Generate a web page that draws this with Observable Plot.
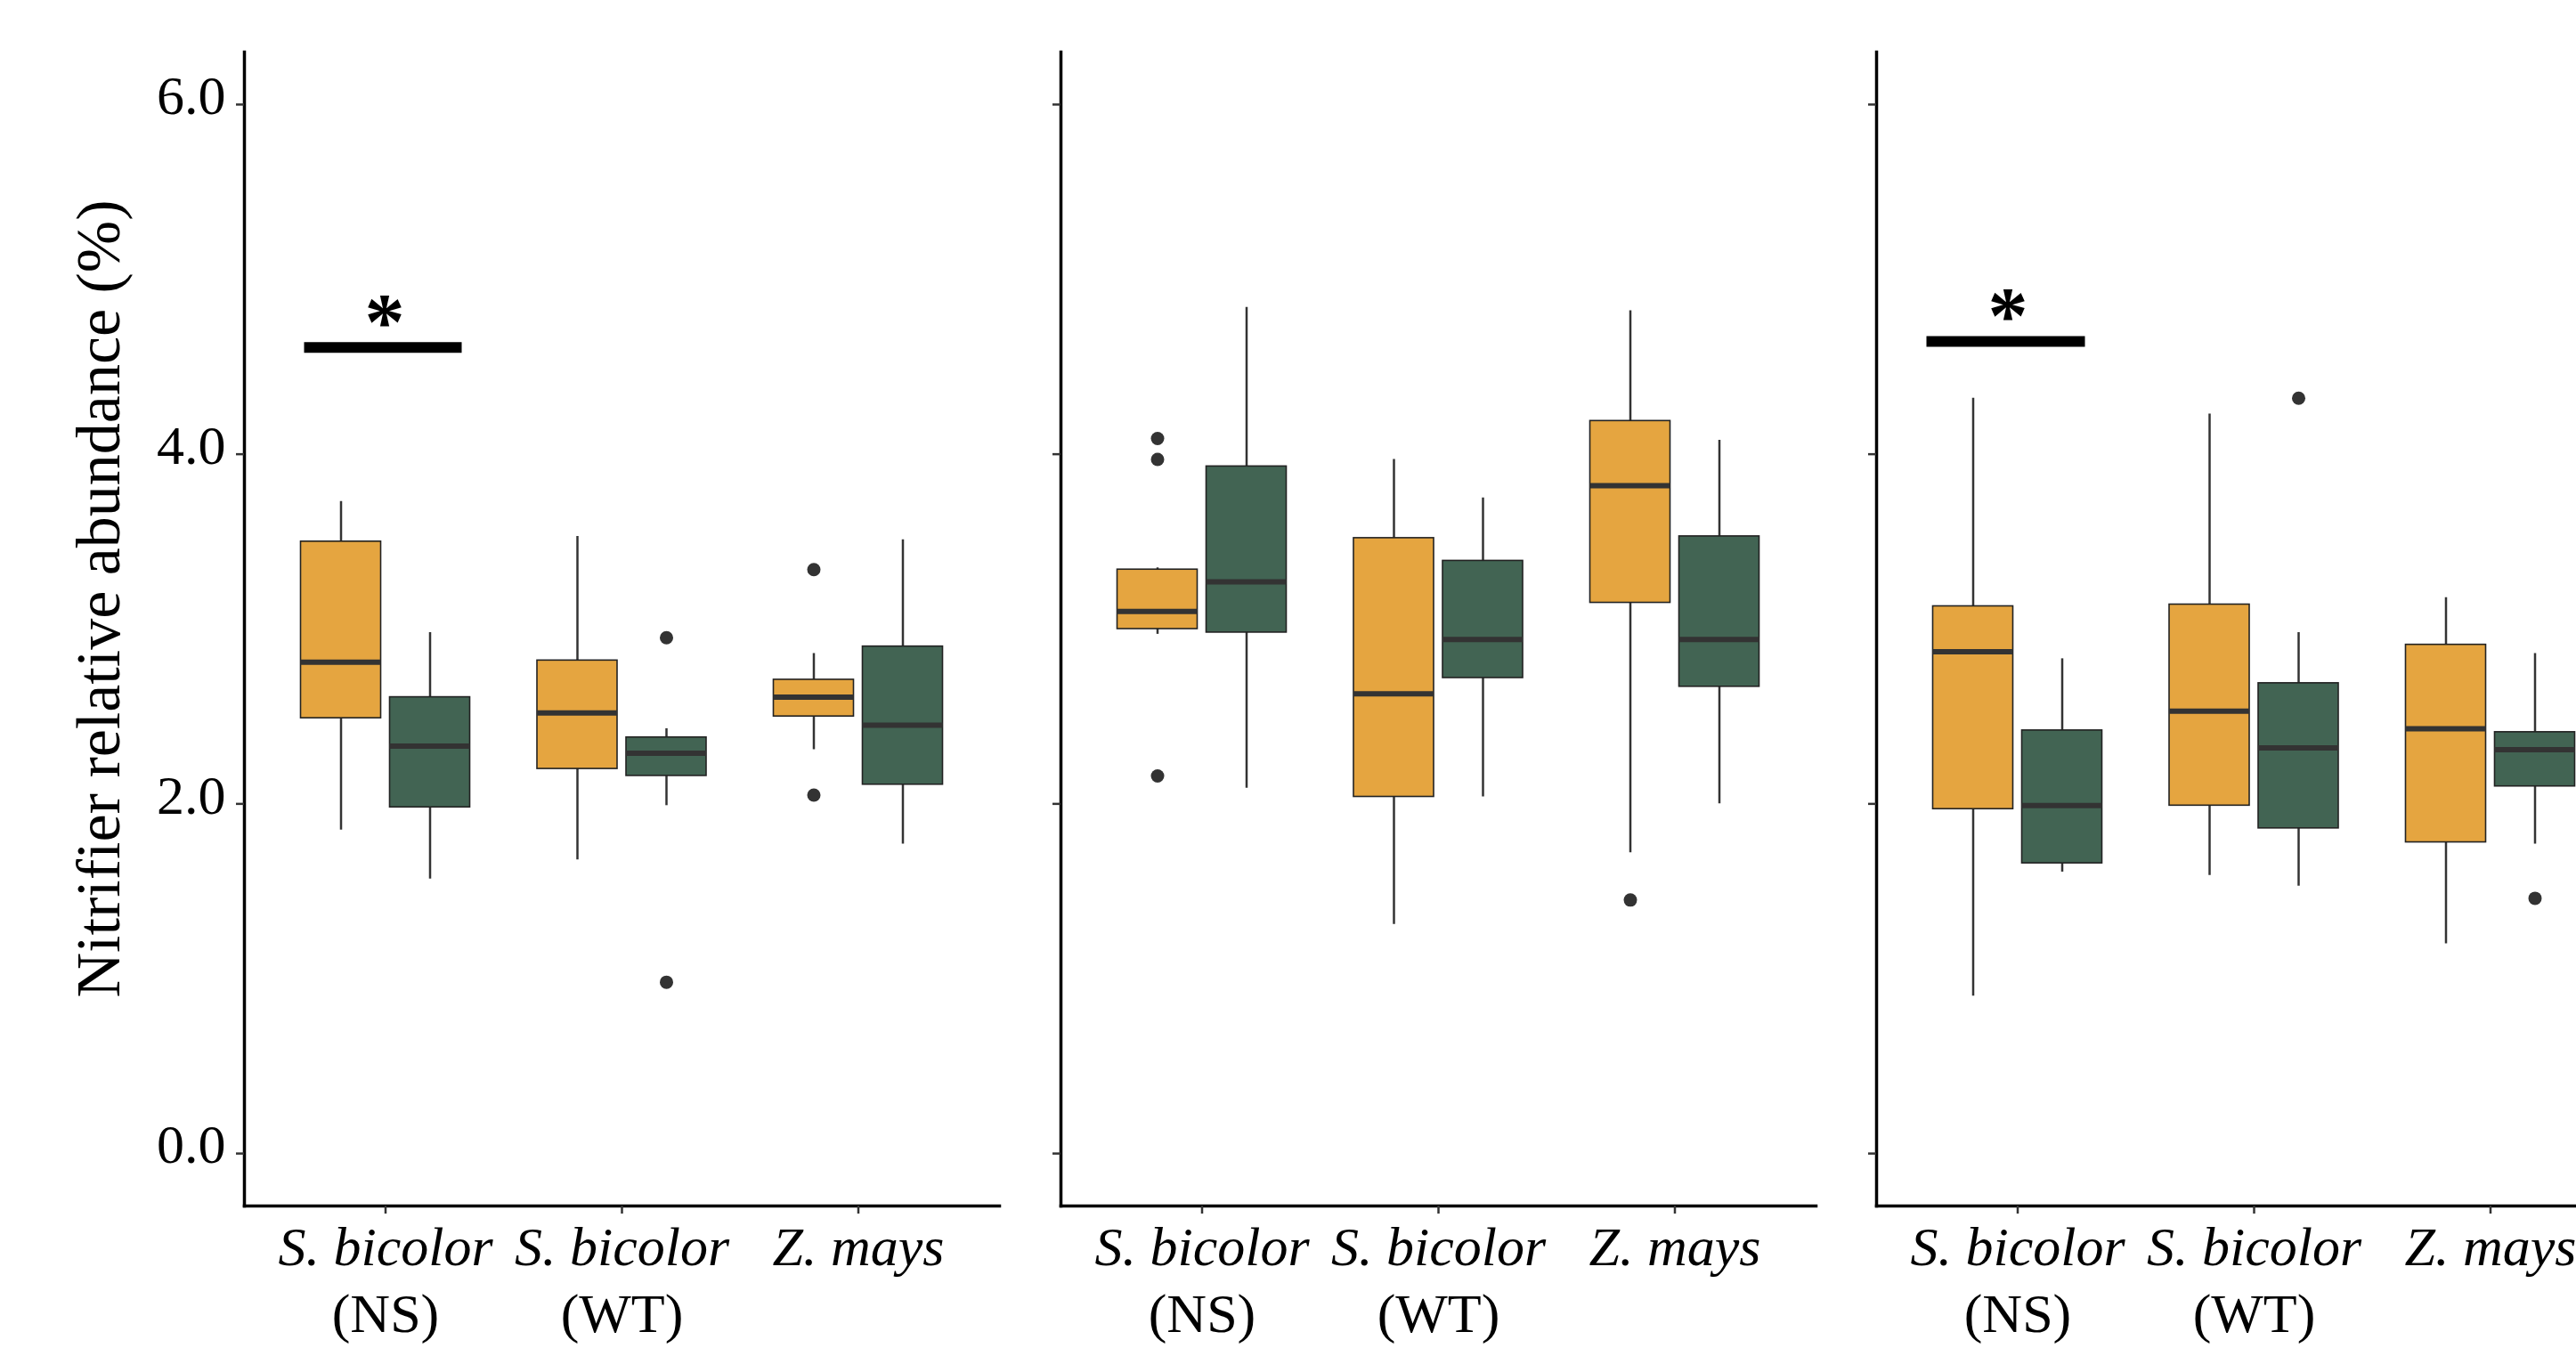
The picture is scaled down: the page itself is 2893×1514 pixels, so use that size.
<!DOCTYPE html>
<html>
<head>
<meta charset="utf-8">
<script src="https://cdn.jsdelivr.net/npm/d3@7"></script>
<script src="https://cdn.jsdelivr.net/npm/@observablehq/plot@0.6"></script>
<style>
  html, body { margin: 0; padding: 0; background: #ffffff; }
  #chart { display: flex; width: 2893px; height: 1514px; overflow: hidden; background: #ffffff; }
  #chart svg { flex: 0 0 auto; }
</style>
</head>
<body>
<div id="chart"></div>
<script>
// ---------------- DATA ----------------
const species = ["S. bicolor (NS)", "S. bicolor (WT)", "Z. mays"];
const speciesLine1 = ["S. bicolor", "S. bicolor", "Z. mays"];
const speciesLine2 = ["(NS)", "(WT)", ""];
const treatments = ["Group 1", "Group 2"];
const panels = ["Panel 1", "Panel 2", "Panel 3"];
const yTicks = [0, 2, 4, 6];
const yTitle = "Nitrifier relative abundance (%)";

// per panel, boxes ordered: NS-1, NS-2, WT-1, WT-2, Zm-1, Zm-2
const whiskerLow = [
  [1.85, 1.57, 1.68, 1.99, 2.31, 1.77],
  [2.97, 2.09, 1.31, 2.04, 1.72, 2.00],
  [0.90, 1.61, 1.59, 1.53, 1.20, 1.77]
];
const quartile1 = [
  [2.49, 1.98, 2.20, 2.16, 2.50, 2.11],
  [3.00, 2.98, 2.04, 2.72, 3.15, 2.67],
  [1.97, 1.66, 1.99, 1.86, 1.78, 2.10]
];
const medians = [
  [2.81, 2.33, 2.52, 2.29, 2.61, 2.45],
  [3.10, 3.27, 2.63, 2.94, 3.82, 2.94],
  [2.87, 1.99, 2.53, 2.32, 2.43, 2.31]
];
const quartile3 = [
  [3.50, 2.61, 2.82, 2.38, 2.71, 2.90],
  [3.34, 3.93, 3.52, 3.39, 4.19, 3.53],
  [3.13, 2.42, 3.14, 2.69, 2.91, 2.41]
];
const whiskerHigh = [
  [3.73, 2.98, 3.53, 2.43, 2.86, 3.51],
  [3.35, 4.84, 3.97, 3.75, 4.82, 4.08],
  [4.32, 2.83, 4.23, 2.98, 3.18, 2.86]
];

// outliers
const outlierPanel     = [0, 0, 0, 0, 1, 1, 1, 1, 2, 2];
const outlierSpecies   = [1, 1, 2, 2, 0, 0, 0, 2, 1, 2];
const outlierTreatment = [1, 1, 0, 0, 0, 0, 0, 0, 1, 1];
const outlierValue     = [2.95, 0.98, 3.34, 2.05, 4.09, 3.97, 2.16, 1.45, 4.32, 1.46];

// significance annotations
const sigPanel   = [0, 2];
const sigSpecies = [0, 0];
const sigY       = [4.61, 4.645];
const sigLabel   = ["*", "*"];

// ---------------- BUILD TABLES ----------------
const boxes = [];
panels.forEach((p, pi) => {
  species.forEach((s, si) => {
    treatments.forEach((t, ti) => {
      const k = si * 2 + ti;
      boxes.push({
        panel: pi, species: s, treatment: ti,
        lo: whiskerLow[pi][k], q1: quartile1[pi][k], med: medians[pi][k],
        q3: quartile3[pi][k], hi: whiskerHigh[pi][k]
      });
    });
  });
});
const outliers = outlierValue.map((v, i) => ({
  panel: outlierPanel[i], species: species[outlierSpecies[i]],
  treatment: outlierTreatment[i], value: v
}));
const sigs = sigY.map((v, i) => ({
  panel: sigPanel[i], species: species[sigSpecies[i]], y: v, label: sigLabel[i]
}));

// ---------------- STYLE / LAYOUT ----------------
const colors = ["#E5A540", "#426453"];
const dodge = [-50, 50];
const font = "'Liberation Serif', 'Times New Roman', serif";
const layout = [
  {marginLeft: 274, width: 1142, sigInsetLeft: -46, sigInsetRight: -41, starDx: -1},
  {marginLeft: 49,  width: 918,  sigInsetLeft: -46, sigInsetRight: -41, starDx: -1},
  {marginLeft: 47,  width: 915,  sigInsetLeft: -57, sigInsetRight: -31, starDx: -11}
];

function panelPlot(pi) {
  const L = layout[pi];
  const marks = [];
  treatments.forEach((t, ti) => {
    const r = boxes.filter(d => d.panel === pi && d.treatment === ti);
    const o = outliers.filter(d => d.panel === pi && d.treatment === ti);
    const dx = dodge[ti];
    marks.push(
      Plot.ruleX(r, {x: "species", y1: "lo", y2: "hi", stroke: "#333333", strokeWidth: 2.5, dx}),
      Plot.barY(r, {x: "species", y1: "q1", y2: "q3", fill: colors[ti], stroke: "#222222", strokeWidth: 1.6, dx}),
      Plot.tickY(r, {x: "species", y: "med", stroke: "#333333", strokeWidth: 6, dx}),
      Plot.dot(o, {x: "species", y: "value", r: 7.5, fill: "#333333", stroke: "none", dx})
    );
  });
  const s = sigs.filter(d => d.panel === pi);
  marks.push(
    Plot.ruleY(s, {x1: "species", x2: "species", y: "y", stroke: "#000000", strokeWidth: 12,
      insetLeft: L.sigInsetLeft, insetRight: L.sigInsetRight}),
    Plot.text(s, {x: "species", y: "y", text: "label", fontSize: 90, fontWeight: "bold",
      lineAnchor: "middle", dx: L.starDx, dy: -27, fill: "#000000"})
  );
  // axes
  marks.push(
    Plot.frame({anchor: "left", stroke: "#000000", strokeWidth: 3.5}),
    Plot.frame({anchor: "bottom", stroke: "#000000", strokeWidth: 3.5}),
    Plot.axisY({ticks: yTicks, tickSize: 9, stroke: "#333333", strokeWidth: 2.5, fill: "none", label: null}),
    Plot.axisX({tickSize: 9, stroke: "#333333", strokeWidth: 2.5, fill: "none", label: null}),
    Plot.axisX({tickSize: 0, tickPadding: 22, fontSize: 62, fontStyle: "italic", fill: "#000000",
      tickFormat: d => speciesLine1[species.indexOf(d)], label: null}),
    Plot.axisX({tickSize: 0, tickPadding: 97, fontSize: 62, fill: "#000000",
      tickFormat: d => speciesLine2[species.indexOf(d)], label: null})
  );
  if (pi === 0) {
    marks.push(
      Plot.axisY({ticks: yTicks, tickSize: 0, tickPadding: 21, dy: -9, fontSize: 62, fill: "#000000",
        tickFormat: d3.format(".1f"), label: null}),
      Plot.text([yTitle], {text: d => d, frameAnchor: "left", rotate: -90, lineAnchor: "bottom",
        textAnchor: "middle", dx: -141, dy: -34, fontSize: 70, fill: "#000000"})
    );
  }
  return Plot.plot({
    width: L.width,
    height: 1514,
    marginLeft: L.marginLeft,
    marginRight: L.width - L.marginLeft - 848,
    marginTop: 58,
    marginBottom: 160,
    style: {fontFamily: font, background: "#ffffff", color: "#000000", maxWidth: "none", overflow: "visible"},
    x: {type: "band", domain: species, paddingInner: 0.661, paddingOuter: 0.4275, round: false, label: null},
    y: {domain: [-0.3, 6.3], label: null},
    marks
  });
}

const chart = document.getElementById("chart");
panels.forEach((p, pi) => chart.appendChild(panelPlot(pi)));
</script>
</body>
</html>
